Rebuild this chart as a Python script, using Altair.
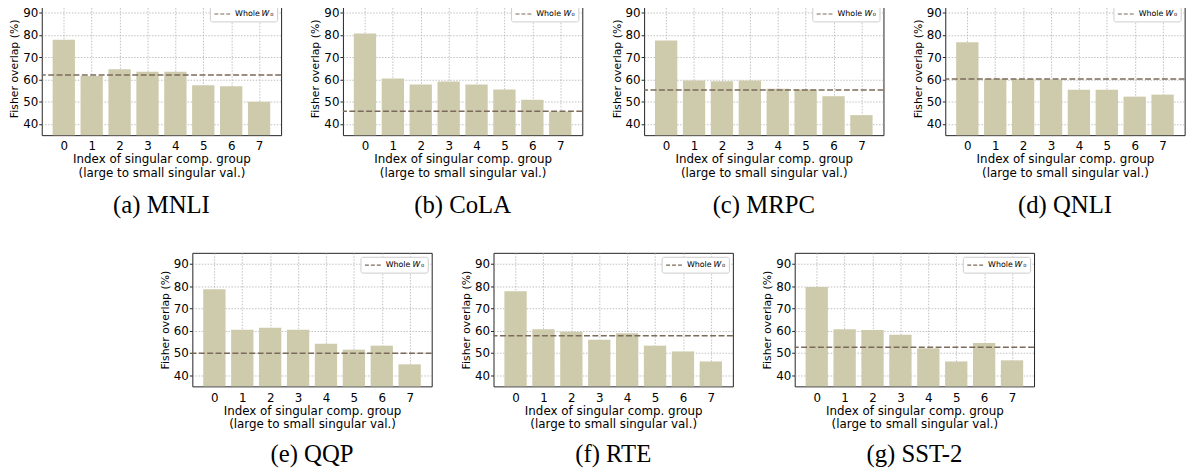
import altair as alt
import pandas as pd

groups = [0, 1, 2, 3, 4, 5, 6, 7]
captions = ["(a) MNLI", "(b) CoLA", "(c) MRPC", "(d) QNLI", "(e) QQP", "(f) RTE", "(g) SST-2"]
mnli = [77.9, 61.6, 64.6, 63.5, 63.5, 57.4, 57.0, 50.0]
cola = [80.7, 60.4, 57.8, 59.1, 57.8, 55.5, 50.9, 45.6]
mrpc = [77.5, 59.6, 59.2, 59.6, 55.9, 55.5, 52.5, 44.0]
qnli = [76.7, 60.3, 60.2, 60.0, 55.4, 55.4, 52.3, 53.2]
qqp = [78.6, 60.4, 61.3, 60.4, 54.2, 51.5, 53.3, 44.9]
rte = [77.7, 60.7, 59.5, 56.0, 58.9, 53.3, 50.7, 46.2]
sst2 = [79.6, 60.7, 60.3, 58.2, 52.1, 46.2, 54.5, 46.7]
series = [mnli, cola, mrpc, qnli, qqp, rte, sst2]
whole = [62.0, 45.7, 55.3, 60.2, 49.9, 57.8, 52.6]
yticks = [40, 50, 60, 70, 80, 90]
legend_label = "Whole 𝑊₀"
x_title = ["Index of singular comp. group", "(large to small singular val.)"]
y_title = "Fisher overlap (%)"

BAR = "#cecbad"
LINE = "#7b6b5b"
FONT = "DejaVu Sans"
W, H = 242, 135


def y_axis():
    return alt.Axis(values=yticks, title=y_title, labelOverlap=False)


def panel(caption, values, w0, cap_offset):
    df = pd.DataFrame({"group": groups, "overlap": values})
    yscale = alt.Scale(domain=[35, 95], nice=False, zero=False)
    bars = (
        alt.Chart(df)
        .transform_calculate(x0="datum.group - 0.4", x1="datum.group + 0.4")
        .mark_bar(color=BAR, opacity=1)
        .encode(
            x=alt.X(
                "x0:Q",
                scale=alt.Scale(domain=[-0.79, 7.79], nice=False, zero=False),
                axis=alt.Axis(values=groups, title=x_title, format="d"),
            ),
            x2="x1:Q",
            y=alt.Y("overlap:Q", scale=yscale, axis=y_axis()),
            y2=alt.Y2(datum=35),
        )
    )
    rdf = pd.DataFrame({"whole": [w0], "label": [legend_label]})
    rule = (
        alt.Chart(rdf)
        .mark_rule(strokeDash=[6, 2.5], strokeWidth=1.5)
        .encode(
            y=alt.Y("whole:Q", scale=yscale, axis=y_axis()),
            color=alt.Color(
                "label:N",
                scale=alt.Scale(range=[LINE]),
                legend=alt.Legend(
                    title=None,
                    orient="top-right",
                    offset=4,
                    padding=3.5,
                    strokeColor="#cccccc",
                    fillColor="white",
                    cornerRadius=2,
                    symbolType="M-1,0L3,0",
                    symbolSize=64,
                    symbolStrokeWidth=1.2,
                    symbolDash=[4, 2],
                    symbolStrokeColor=LINE,
                    labelFont=FONT,
                    labelFontSize=8,
                    labelColor="black",
                    labelOffset=12,
                ),
            ),
        )
    )
    return alt.layer(bars, rule).properties(
        width=W,
        height=H,
        title=alt.TitleParams(
            text=caption,
            orient="bottom",
            font="Liberation Serif",
            fontSize=25,
            fontWeight="normal",
            color="black",
            offset=cap_offset,
            anchor="middle",
        ),
    )


panels_top = [panel(c, s, w, 15) for c, s, w in zip(captions[:4], series[:4], whole[:4])]
panels_bot = [panel(c, s, w, 12) for c, s, w in zip(captions[4:], series[4:], whole[4:])]
top = alt.hconcat(*panels_top, spacing=26.5).resolve_scale(color="independent").resolve_legend(color="independent")
bottom = alt.hconcat(*panels_bot, spacing=26.5).resolve_scale(color="independent").resolve_legend(color="independent")

chart = (
    alt.vconcat(top, bottom, spacing=33, center=True)
    .resolve_scale(color="independent")
    .resolve_legend(color="independent")
    .properties(padding={"top": -10, "left": 0, "right": 0, "bottom": 0})
    .configure_view(stroke="#222222", strokeWidth=1)
    .configure_axis(
        labelFont=FONT,
        titleFont=FONT,
        labelFontSize=12,
        titleFontSize=12,
        labelColor="black",
        titleColor="black",
        titleFontWeight="normal",
        domain=False,
        grid=True,
        gridColor="#b0b0b0",
        gridDash=[1.5, 1.5],
        gridWidth=0.8,
        tickColor="#222222",
    )
    .configure_axisX(ticks=False, labelPadding=6, titlePadding=2, titleLineHeight=14)
    .configure_axisY(tickSize=3, labelPadding=1, titlePadding=3, titleFontSize=11)
)

chart.save("out.html", embed_options={"renderer": "svg", "actions": False})
